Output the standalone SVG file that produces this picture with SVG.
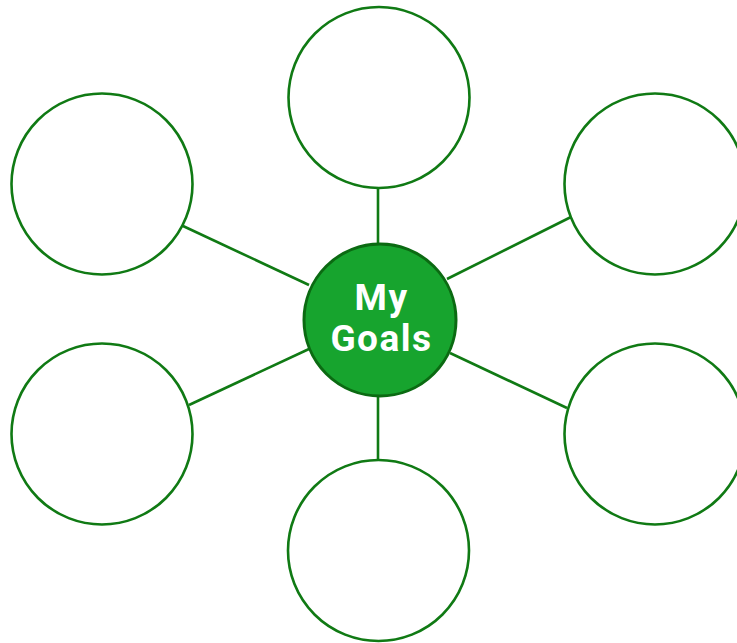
<svg xmlns="http://www.w3.org/2000/svg" width="737" height="643" viewBox="0 0 737 643">
  <style>
    .link { stroke: #107a14; stroke-width: 2.6; fill: none; }
    .goal { fill: #ffffff; stroke: #107a14; stroke-width: 2.6; }
    .hub { fill: #17a42e; stroke: #0b6a12; stroke-width: 3; }
    .hub-text { font-family: Roboto, "Liberation Sans", sans-serif; font-weight: bold; font-size: 37px; letter-spacing: 1.5px; fill: #ffffff; text-anchor: middle; }
  </style>
  <rect width="737" height="643" fill="#ffffff"/>
  <g id="connectors">
    <line class="link" x1="378" y1="188" x2="378" y2="244"/>
    <line class="link" x1="183" y1="226" x2="309" y2="285"/>
    <line class="link" x1="447" y1="279" x2="571" y2="217"/>
    <line class="link" x1="189" y1="405" x2="309" y2="349"/>
    <line class="link" x1="450" y1="353" x2="567" y2="408"/>
    <line class="link" x1="378" y1="396" x2="378" y2="459"/>
  </g>
  <g id="goal-top"><circle class="goal" cx="379" cy="97.5" r="90.5"/></g>
  <g id="goal-top-left"><circle class="goal" cx="102" cy="184" r="90.5"/></g>
  <g id="goal-top-right"><circle class="goal" cx="655" cy="184" r="90.5"/></g>
  <g id="goal-bottom-left"><circle class="goal" cx="102" cy="434" r="90.5"/></g>
  <g id="goal-bottom-right"><circle class="goal" cx="655" cy="434" r="90.5"/></g>
  <g id="goal-bottom"><circle class="goal" cx="378.5" cy="550.5" r="90.5"/></g>
  <g id="hub">
    <circle class="hub" cx="380" cy="320" r="76"/>
    <text class="hub-text" x="381.5" y="310">My</text>
    <text class="hub-text" x="381.5" y="351">Goals</text>
  </g>
</svg>
